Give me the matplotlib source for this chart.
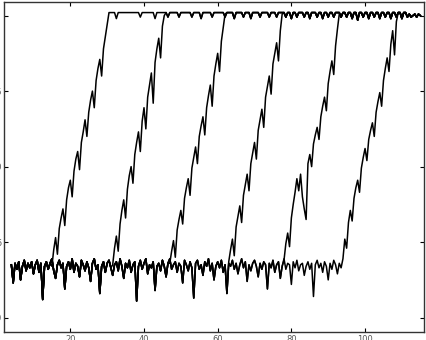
import numpy as np
import matplotlib.pyplot as plt

step = 0.5

# noisy floor, sampled every 0.5 from x = 4
base_start = 4.0
base_y = [3.5, 2.3, 3.6, 3.2, 3.7, 2.5, 3.4, 3.8, 3.1, 3.6,
          3.3, 3.7, 2.9, 3.5, 3.8, 3.0, 3.6, 1.2, 3.4, 3.7,
          3.2, 3.6, 3.9, 3.1, 2.6, 3.5, 3.8, 3.3, 3.6, 1.9,
          3.4, 3.7, 3.2, 3.9, 3.0, 3.6, 3.4, 2.7, 3.8, 3.5,
          3.1, 3.7, 3.3, 2.4, 3.6, 3.9, 3.2, 3.5, 1.6, 3.4,
          3.7, 3.0, 3.6, 3.8, 3.3, 2.8, 3.5, 3.7, 3.1, 3.9,
          3.4, 2.6, 3.6, 3.3, 3.8, 3.0, 3.5, 3.7, 1.1, 3.4,
          3.8, 3.2, 3.6, 3.9, 2.9, 3.5, 3.3, 3.7, 1.8, 3.4,
          3.6, 3.1, 3.8, 3.4, 2.7, 3.6, 3.9, 3.2, 3.5, 3.7,
          3.0, 3.6, 3.4, 2.3, 3.8, 3.5, 3.1, 3.7, 3.3, 1.3,
          3.6, 3.8, 3.2, 3.5, 2.8, 3.7, 3.4, 3.9, 3.1, 3.6,
          2.5, 3.4, 3.7, 3.3, 3.8, 3.0, 3.5, 1.6, 3.6, 3.4,
          3.8, 3.2, 3.6, 2.9, 3.5, 3.9, 3.3, 3.7, 2.4, 3.5,
          3.1, 3.6, 3.8, 3.4, 2.7, 3.6, 3.2, 3.7, 3.5, 1.9,
          3.6, 3.3, 3.8, 3.0, 3.5, 3.7, 2.6, 3.4, 3.9, 3.2,
          3.6, 3.5, 2.2, 3.7, 3.3, 3.8, 3.1, 3.5, 3.6, 2.8,
          3.4, 3.7, 3.2, 3.6, 1.4, 3.5, 3.8, 3.3, 3.6, 3.0,
          3.7, 3.4, 2.5, 3.6, 3.2, 3.8, 3.5, 2.9, 3.6, 3.3]

# saturated ceiling, sampled every 0.5 from x = 31
top_start = 31.0
top_y = [20.2, 20.2, 20.2, 19.8, 20.2, 20.2, 20.2, 20.2, 20.2, 20.2,
         20.2, 20.2, 20.2, 20.2, 20.2, 20.2, 19.9, 20.2, 20.2, 20.2,
         20.2, 20.2, 20.2, 20.2, 19.8, 20.2, 20.2, 20.2, 20.2, 20.2,
         20.2, 19.9, 20.2, 20.2, 20.2, 20.2, 20.2, 19.9, 20.2, 20.2,
         20.2, 20.2, 20.2, 20.2, 19.9, 20.2, 20.2, 20.2, 20.2, 19.8,
         20.2, 20.2, 20.2, 20.2, 20.2, 19.9, 20.2, 20.2, 20.2, 20.2,
         20.2, 20.2,
         19.9, 20.2, 20.2, 20.2, 20.2, 19.8, 20.2, 20.2, 20.2, 20.2,
         19.9, 20.2, 20.2, 20.2, 19.8, 20.2, 20.2, 20.2, 20.2, 19.9,
         20.2, 20.2, 20.2, 20.2, 19.9, 20.2, 20.2, 20.2, 19.9, 20.2,
         20.2, 20.2,
         20.2, 19.9, 20.2, 20.2, 19.8, 20.2, 20.2, 19.9, 20.2, 20.2,
         20.2, 19.9, 20.2, 20.2, 19.8, 20.2, 20.2, 20.2, 19.9, 20.2,
         20.2, 19.8, 20.2, 20.2, 19.9, 20.2, 20.2, 19.9, 20.2, 20.2,
         20.2, 19.9,
         20.2, 20.2, 19.9, 20.2, 20.2, 19.8, 20.2, 20.2, 19.7, 20.2,
         20.2, 19.9, 20.2, 20.2, 19.8, 20.2, 20.2, 19.9, 20.2, 20.2,
         19.8, 20.2, 20.2, 19.9, 20.2, 20.2, 19.8, 20.2, 20.2, 19.9,
         20.2, 20.2, 19.8, 20.2, 20.2, 19.9, 20.1, 19.9, 20.0, 20.1,
         19.9, 20.1, 20.0]

# rising parts, each sampled every 0.5 from its start
ramp_starts = [15.0, 31.5, 47.0, 63.0, 78.0, 94.0]
ramp_1 = [3.4, 4.5, 5.3, 4.2, 5.9, 6.6, 7.2, 6.1, 7.8, 8.6, 9.1, 8.0, 9.7, 10.5, 11.0, 9.8,
          11.6, 12.3, 13.1, 12.0, 13.6, 14.4, 15.0, 13.9, 15.7, 16.5, 17.1, 16.0, 17.8, 18.6, 19.4, 20.2]
ramp_2 = [3.5, 4.6, 5.4, 4.4, 6.2, 7.1, 7.8, 6.6, 8.5, 9.4, 10.0, 8.9, 10.8, 11.6, 12.3,
          11.0, 13.0, 13.9, 12.5, 14.6, 15.4, 16.2, 14.2, 16.9, 17.8, 18.5, 17.2, 19.3, 20.0]
ramp_3 = [3.6, 4.4, 5.1, 4.0, 5.8, 6.5, 7.1, 6.2, 7.9, 8.6, 9.2, 8.1, 9.9, 10.6, 11.3, 10.2,
          12.0, 12.7, 13.3, 12.1, 13.9, 14.7, 15.4, 14.0, 16.0, 16.8, 17.5, 16.3, 18.3, 19.2, 20.1]
ramp_4 = [3.7, 4.5, 5.2, 4.1, 6.0, 6.7, 7.4, 6.3, 8.1, 8.8, 9.5, 8.4, 10.2, 10.9, 11.6,
          10.5, 12.4, 13.1, 13.8, 12.6, 14.6, 15.3, 16.0, 14.8, 16.8, 17.5, 18.2, 17.0, 19.0, 20.1]
ramp_5 = [3.8, 4.9, 5.6, 4.7, 6.6, 7.5, 8.3, 9.2, 8.4, 9.5, 8.0, 7.2, 6.5, 10.2, 10.8, 10.0,
          11.5, 12.1, 12.6, 11.8, 13.3, 14.0, 14.6, 13.7, 15.5, 16.3, 17.0, 16.1, 18.0, 19.1, 20.1]
ramp_6 = [3.9, 5.2, 4.6, 6.3, 7.1, 6.4, 7.9, 8.6, 9.1, 8.3, 9.9, 10.6, 11.2, 10.4, 11.8, 12.4,
          12.9, 12.0, 13.6, 14.3, 14.9, 14.0, 15.7, 16.5, 17.2, 16.3, 18.1, 19.0, 17.4, 19.6, 20.2]
ramps = [ramp_1, ramp_2, ramp_3, ramp_4, ramp_5, ramp_6]

x_ticks = [20, 40, 60, 80, 100]
y_ticks = [0, 5, 10, 15, 20]

fig = plt.figure(figsize=(4.26, 3.4), dpi=100)
ax = fig.add_axes([4 / 426, 8 / 340, 420 / 426, 330 / 340])

base_x = base_start + step * np.arange(len(base_y))
top_x = top_start + step * np.arange(len(top_y))
base_arr = np.array(base_y)
top_arr = np.array(top_y)

for start, ramp in zip(ramp_starts, ramps):
    rx = start + step * np.arange(len(ramp))
    bm = base_x < start
    tm = top_x > rx[-1]
    x = np.concatenate([base_x[bm], rx, top_x[tm]])
    y = np.concatenate([base_arr[bm], ramp, top_arr[tm]])
    ax.plot(x, y, color='black', lw=1.1)

ax.set_xlim(2, 116)
ax.set_ylim(-0.95, 20.9)
ax.set_xticks(x_ticks)
ax.set_yticks(y_ticks)
ax.tick_params(direction='in', length=3, width=0.8, top=True, right=True,
               labelsize=6, labelcolor='#555555', pad=2)
for s in ax.spines.values():
    s.set_linewidth(1.0)
    s.set_color('#333333')

fig.savefig('out.png', dpi=100)
